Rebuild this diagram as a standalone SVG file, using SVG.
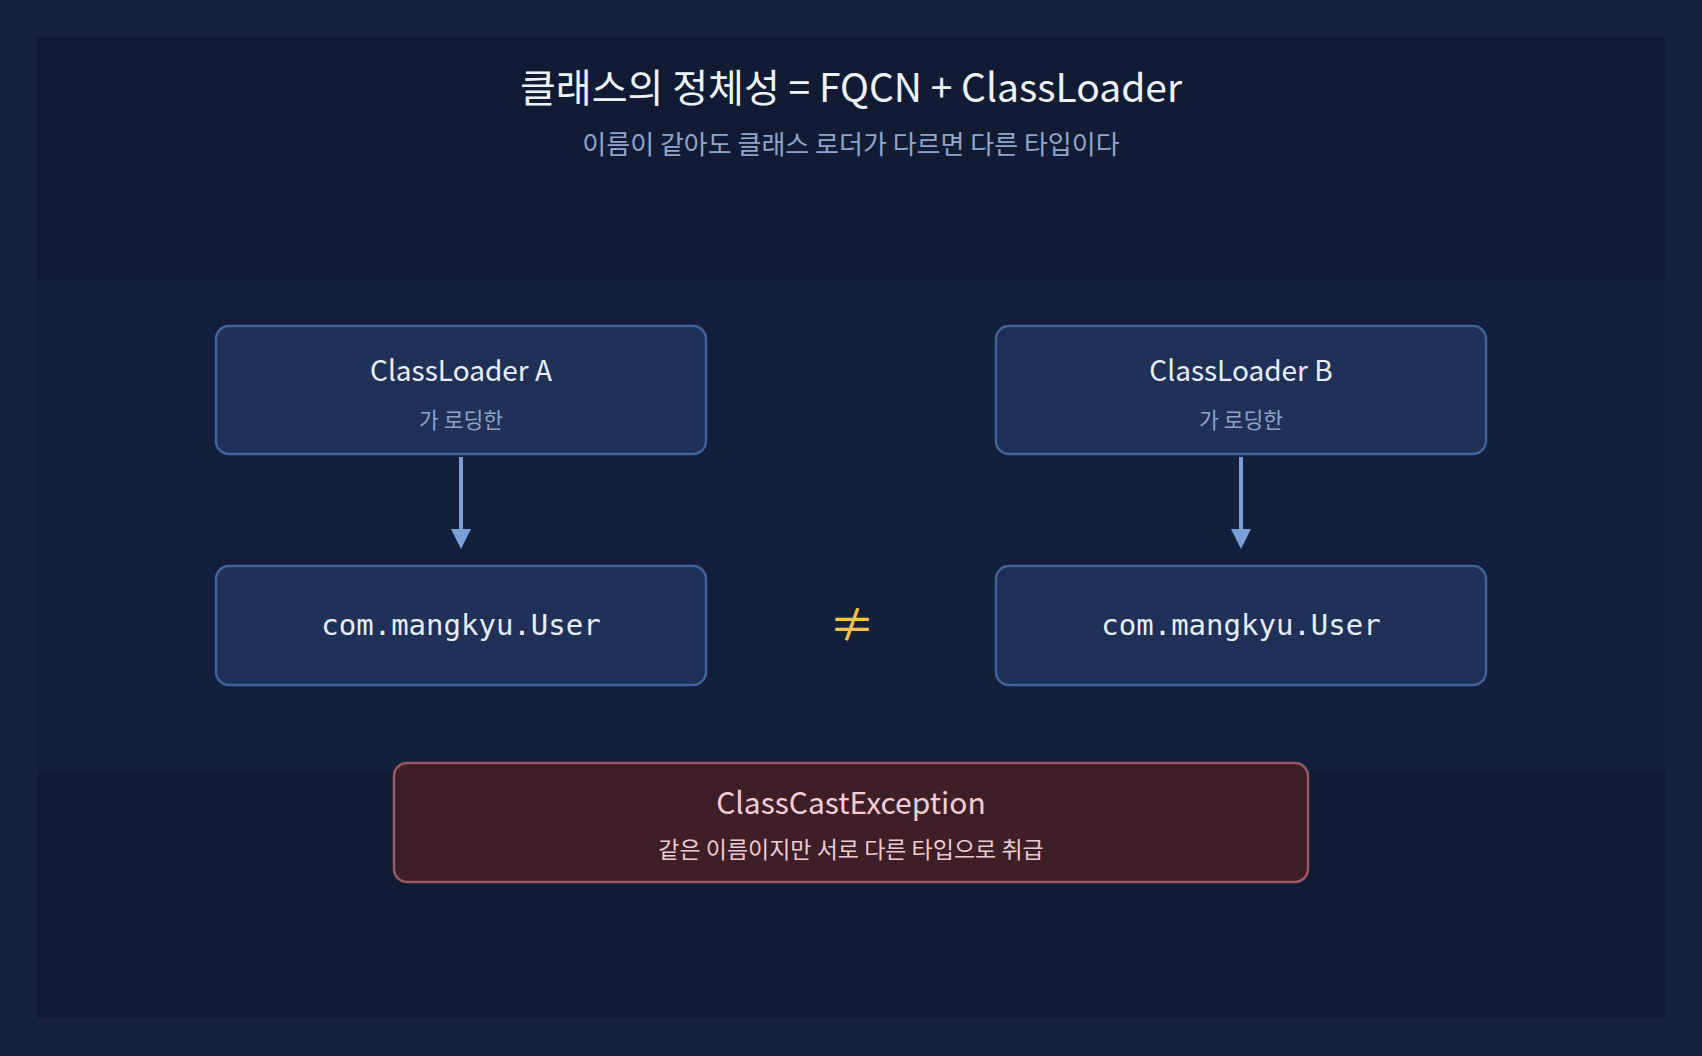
<svg xmlns="http://www.w3.org/2000/svg" width="1702" height="1056" viewBox="0 0 1702 1056">
  <defs>
    <marker id="arrow" viewBox="0 0 20 20" refX="3" refY="10" markerWidth="20" markerHeight="20" markerUnits="userSpaceOnUse" orient="auto">
      <path d="M0,0 L20,10 L0,20 Z" fill="#7a9fd6"/>
    </marker>
    <style>
      .kr { font-family: "Noto Sans CJK KR", "Noto Sans", sans-serif; font-weight: 400; }
      .mono { font-family: "DejaVu Sans Mono", "Liberation Mono", monospace; }
      .box { fill: #1f3157; stroke: #41639c; stroke-width: 2.5; }
      .err { fill: #3e1e27; stroke: #9c5866; stroke-width: 2.5; }
      .head { font-size: 28px; fill: #e8eef8; text-anchor: middle; }
      .sub { font-size: 21.5px; fill: #8ea3c6; text-anchor: middle; }
      .code { font-size: 29px; fill: #e6edf7; text-anchor: middle; }
      .conn { stroke: #7a9fd6; stroke-width: 4; fill: none; }
    </style>
  </defs>

  <rect x="0" y="0" width="1702" height="1056" fill="#15233f"/>
  <rect x="37" y="37" width="1628" height="981" fill="#111c34"/>
  <rect x="37" y="280" width="1628" height="492" fill="#13203c"/>

  <g id="title">
    <text class="kr" x="851" y="102" font-size="39" fill="#eef3fa" text-anchor="middle">클래스의 정체성 = FQCN + ClassLoader</text>
    <text class="kr" x="851" y="154" font-size="26" fill="#8fa6cc" text-anchor="middle">이름이 같아도 클래스 로더가 다르면 다른 타입이다</text>
  </g>

  <g id="loaderA">
    <rect class="box" x="216" y="326" width="490" height="128" rx="13"/>
    <text class="kr head" x="461" y="381">ClassLoader A</text>
    <text class="kr sub" x="461" y="428">가 로딩한</text>
  </g>

  <g id="userA">
    <rect class="box" x="216" y="566" width="490" height="119" rx="13"/>
    <text class="mono code" x="461" y="635">com.mangkyu.User</text>
  </g>

  <g id="loaderB">
    <rect class="box" x="996" y="326" width="490" height="128" rx="13"/>
    <text class="kr head" x="1241" y="381">ClassLoader B</text>
    <text class="kr sub" x="1241" y="428">가 로딩한</text>
  </g>

  <g id="userB">
    <rect class="box" x="996" y="566" width="490" height="119" rx="13"/>
    <text class="mono code" x="1241" y="635">com.mangkyu.User</text>
  </g>

  <g id="neq">
    <text class="kr" x="852" y="641" font-size="46" fill="#f2c14e" text-anchor="middle">≠</text>
  </g>

  <g id="exception">
    <rect class="err" x="394" y="763" width="914" height="119" rx="13"/>
    <text class="kr" x="851" y="814" font-size="30" fill="#f2cdd5" text-anchor="middle">ClassCastException</text>
    <text class="kr" x="851" y="858" font-size="23" fill="#ecccd3" text-anchor="middle">같은 이름이지만 서로 다른 타입으로 취급</text>
  </g>

  <g id="connectors">
    <line class="conn" x1="461" y1="457" x2="461" y2="532" marker-end="url(#arrow)"/>
    <line class="conn" x1="1241" y1="457" x2="1241" y2="532" marker-end="url(#arrow)"/>
  </g>
</svg>
